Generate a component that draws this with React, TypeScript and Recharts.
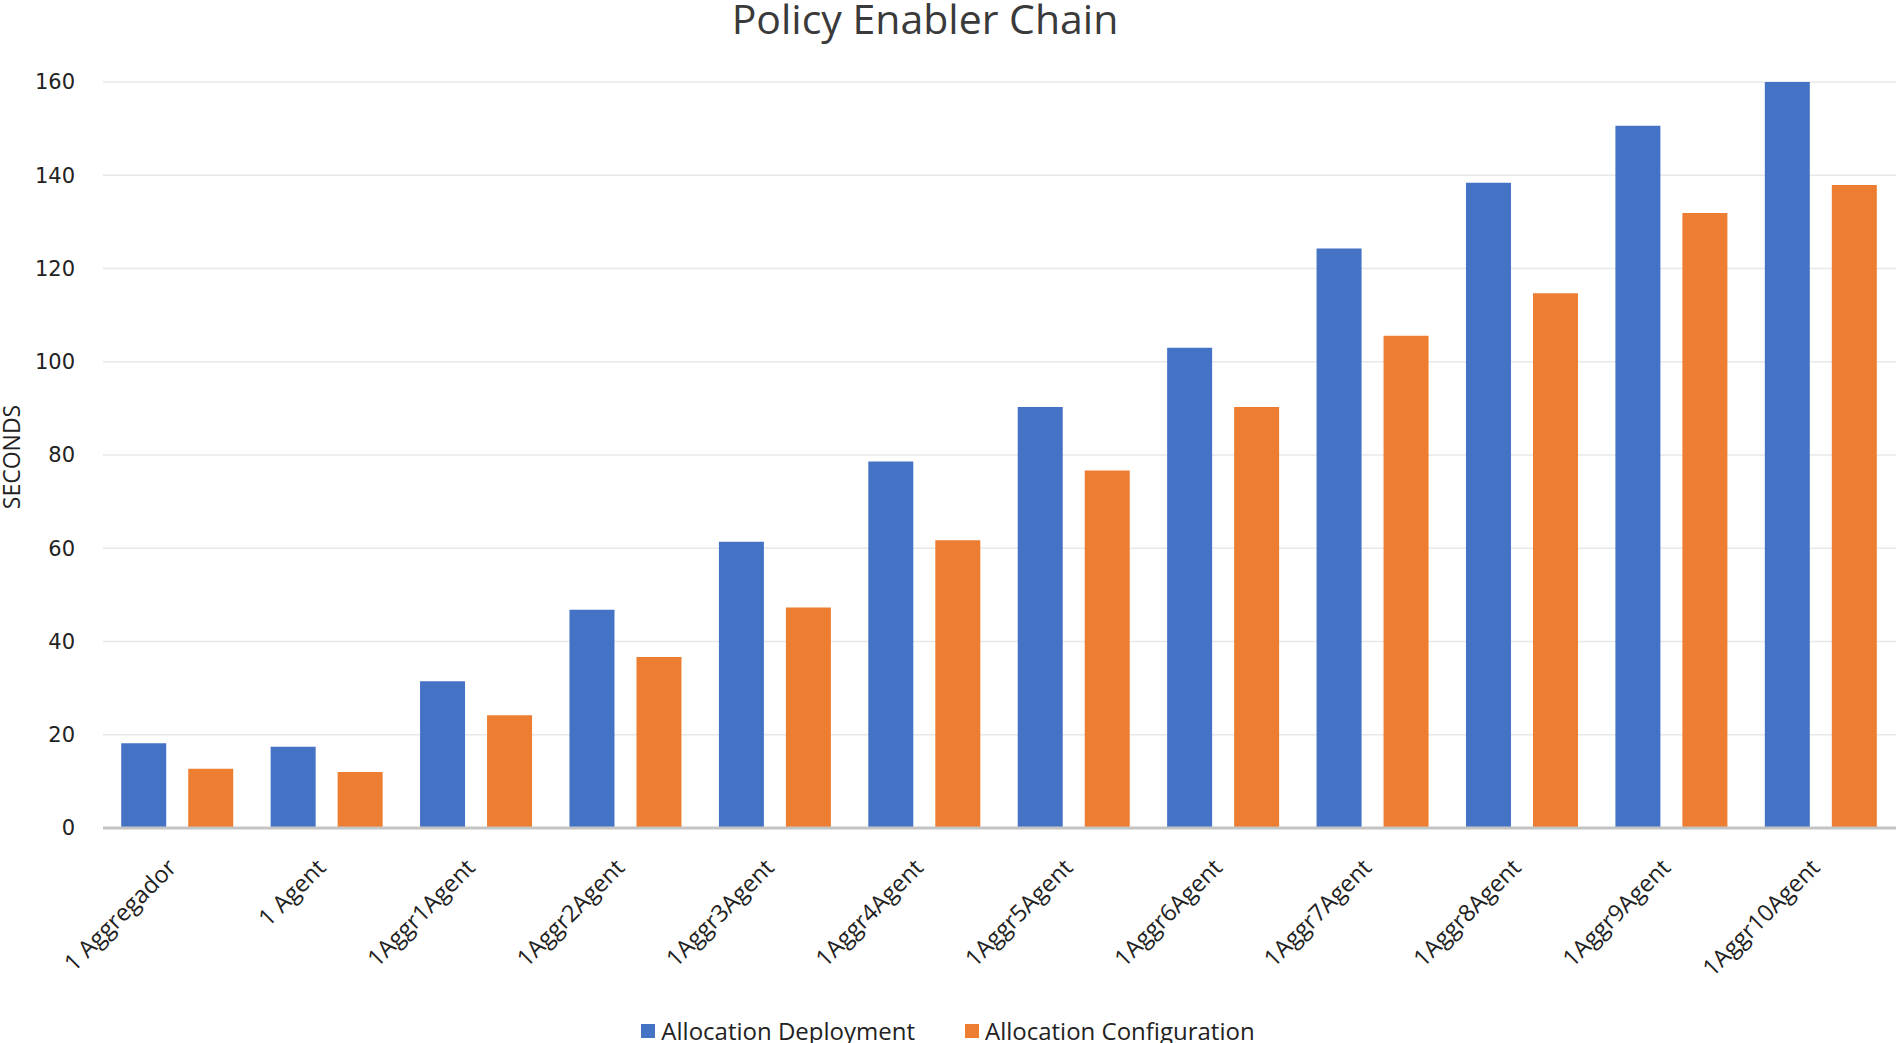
import React from 'react';
import { BarChart, Bar, XAxis, YAxis, CartesianGrid, Legend } from 'recharts';

const categories = [
  '1 Aggregador', '1 Agent', '1Aggr1Agent', '1Aggr2Agent', '1Aggr3Agent', '1Aggr4Agent',
  '1Aggr5Agent', '1Aggr6Agent', '1Aggr7Agent', '1Aggr8Agent', '1Aggr9Agent', '1Aggr10Agent',
];
const deployment = [18.2, 17.4, 31.5, 46.8, 61.4, 78.6, 90.3, 103.0, 124.3, 138.4, 150.6, 160];
const configuration = [12.7, 12.0, 24.2, 36.7, 47.3, 61.7, 76.7, 90.3, 105.6, 114.7, 131.9, 137.9];
const yTicks = [0, 20, 40, 60, 80, 100, 120, 140, 160];
const seriesOrder = ['deployment', 'configuration'];

const data = categories.map((name, i) => ({
  name,
  deployment: deployment[i],
  configuration: configuration[i],
}));

const FONT = "'Open Sans', sans-serif";

const XTick = (props: any) => {
  const { x, y, payload } = props;
  return (
    <g transform={`translate(${x},${y + 41})`}>
      <text textAnchor="end" transform="rotate(-45)" fontFamily={FONT} fontSize={23.5} fill="#222">
        {payload.value}
      </text>
    </g>
  );
};

const LegendContent = (props: any) => {
  const items = [...(props.payload || [])].sort(
    (a: any, b: any) => seriesOrder.indexOf(a.dataKey) - seriesOrder.indexOf(b.dataKey)
  );
  return (
    <div style={{ height: 40, boxSizing: 'border-box', paddingTop: 10, textAlign: 'center', lineHeight: '30px', fontFamily: FONT, fontSize: 24, color: '#222', whiteSpace: 'nowrap' }}>
      {items.map((p: any, i: number) => (
        <span key={i} style={{ display: 'inline-block', marginLeft: i === 0 ? 0 : 50 }}>
          <span style={{ display: 'inline-block', width: 14, height: 14, background: p.color, marginRight: 6, verticalAlign: 'middle' }} />
          <span style={{ verticalAlign: 'middle' }}>{p.value}</span>
        </span>
      ))}
    </div>
  );
};

export default function App() {
  return (
    <div style={{ position: 'absolute', left: 0, top: 0, width: 1900, height: 1043, background: '#fff', overflow: 'hidden' }}>
      <div style={{ position: 'absolute', left: 425, top: -2, width: 1000, textAlign: 'center', fontFamily: FONT, fontSize: 41, lineHeight: '41px', color: '#3a3a3a', zIndex: 2 }}>
        Policy Enabler Chain
      </div>
      <div style={{ position: 'absolute', left: 11, top: 457, transform: 'translate(-50%, -50%) rotate(-90deg)', fontFamily: FONT, fontSize: 23, lineHeight: '23px', color: '#222', whiteSpace: 'nowrap', zIndex: 2 }}>
        SECONDS
      </div>
      <BarChart
        width={1900}
        height={1043}
        data={data}
        margin={{ top: 82, right: 4, left: 0, bottom: 0 }}
        barCategoryGap="12.2%"
        barGap={22}
      >
        <CartesianGrid vertical={false} stroke="#E8E8E8" strokeWidth={1.5} />
        <XAxis
          dataKey="name"
          interval={0}
          height={175}
          tickLine={false}
          tickSize={0}
          tickMargin={0}
          axisLine={{ stroke: '#C4C4C4', strokeWidth: 3 }}
          tick={<XTick />}
        />
        <YAxis
          width={103}
          domain={[0, 160]}
          ticks={yTicks}
          axisLine={false}
          tickLine={false}
          tickSize={0}
          tickMargin={28}
          tick={{ fontFamily: "'DejaVu Sans', sans-serif", fontSize: 21, fill: '#222' }}
        />
        <Legend verticalAlign="bottom" content={<LegendContent />} />
        <Bar dataKey="deployment" name="Allocation Deployment" fill="#4472C4" isAnimationActive={false} />
        <Bar dataKey="configuration" name="Allocation Configuration" fill="#ED7D31" isAnimationActive={false} />
      </BarChart>
    </div>
  );
}
